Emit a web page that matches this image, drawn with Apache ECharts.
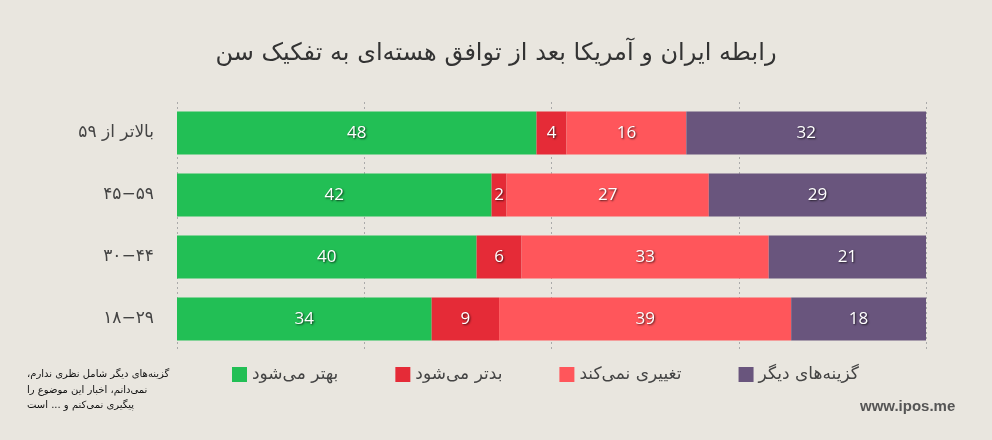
<!DOCTYPE html>
<html>
<head>
<meta charset="utf-8">
<script src="https://cdn.jsdelivr.net/npm/echarts@6/dist/echarts.min.js"></script>
<style>
html,body{margin:0;padding:0;background:#e9e6df;}
#c{width:992px;height:440px;}
</style>
</head>
<body>
<div id="c"></div>
<script>
const categories = ['۱۸−۲۹', '۳۰−۴۴', '۴۵−۵۹', 'بالاتر از ۵۹'];
const seriesNames = ['بهتر می‌شود', 'بدتر می‌شود', 'تغییری نمی‌کند', 'گزینه‌های دیگر'];
const better = [34, 40, 42, 48];
const worse = [9, 6, 2, 4];
const noChange = [39, 33, 27, 16];
const other = [18, 21, 29, 32];
const colors = ['#22bf55', '#e52b37', '#ff565b', '#69557d'];
const xTicks = { min: 0, max: 100, interval: 25 };
const titleText = 'رابطه ایران و آمریکا بعد از توافق هسته‌ای به تفکیک سن';
const noteLines = ['گزینه‌های دیگر شامل نظری ندارم،\u200F', 'نمی‌دانم، اخبار این موضوع را', 'پیگیری نمی‌کنم و ... است'];
const siteText = 'www.ipos.me';

const persian = '"DejaVu Sans", sans-serif';
const chart = echarts.init(document.getElementById('c'), null, { renderer: 'canvas' });
const values = [better, worse, noChange, other];

chart.setOption({
  backgroundColor: '#e9e6df',
  animation: false,
  color: colors,
  title: {
    text: titleText,
    left: 'center',
    top: 37,
    textStyle: { fontFamily: persian, fontSize: 24, fontWeight: 'normal', color: '#333' }
  },
  grid: { left: 177, right: 66, top: 102, height: 248, containLabel: false },
  legend: {
    data: seriesNames,
    left: 227,
    top: 361,
    itemWidth: 15,
    itemHeight: 15,
    itemGap: 57,
    icon: 'rect',
    textStyle: { fontFamily: persian, fontSize: 17, color: '#444' }
  },
  xAxis: {
    type: 'value',
    min: xTicks.min, max: xTicks.max, interval: xTicks.interval,
    axisLabel: { show: false },
    axisLine: { show: false },
    axisTick: { show: false },
    splitLine: { show: true, lineStyle: { color: '#aaa', type: [2, 3], width: 1 } }
  },
  yAxis: {
    type: 'category',
    data: categories,
    axisLine: { show: false },
    axisTick: { show: false },
    axisLabel: { fontFamily: persian, fontSize: 17, color: '#444', margin: 23 }
  },
  graphic: [
    {
      type: 'text', left: 27, top: 367,
      style: { text: noteLines.join('\n'), fontFamily: persian, fontSize: 10, lineHeight: 15.5, fill: '#111', textAlign: 'left' }
    },
    {
      type: 'text', left: 860, top: 399,
      style: { text: siteText, fontFamily: '"Liberation Sans", sans-serif', fontSize: 15, fontWeight: 'bold', fill: '#555' }
    }
  ],
  series: seriesNames.map((name, i) => ({
    name: name,
    type: 'bar',
    stack: 'total',
    barWidth: 43,
    data: values[i],
    itemStyle: { color: colors[i] },
    label: {
      show: true,
      position: 'inside',
      color: '#fff',
      fontFamily: '"Open Sans", sans-serif',
      fontSize: 17,
      fontWeight: 500,
      textShadowColor: 'rgba(0,0,0,0.7)',
      textShadowBlur: 2,
      textShadowOffsetX: 1,
      textShadowOffsetY: 1
    }
  }))
});
</script>
</body>
</html>
